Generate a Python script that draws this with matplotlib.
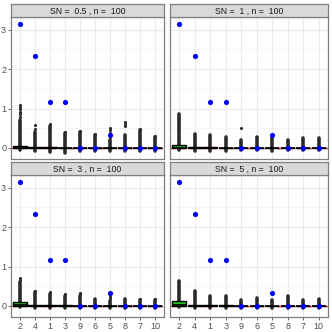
import numpy as np
import matplotlib.pyplot as plt

plt.rcParams['font.family'] = ['Liberation Sans', 'DejaVu Sans']

# categories in plotting order
cats = ['2', '4', '1', '3', '9', '6', '5', '8', '7', '10']
panels = ['SN =  0.5 , n =  100', 'SN =  1 , n =  100',
          'SN =  3 , n =  100', 'SN =  5 , n =  100']

# true values (blue points)
truth = [3.14, 2.32, 1.16, 1.17, 0, 0, 0.33, 0, 0, 0]

# box statistics per panel (q1, median, q3)
q1 = [[-0.005] * 10] * 4
med = [[0.01, 0, 0, 0, 0, 0, 0, 0, 0, 0],
       [0.01, 0, 0, 0, 0, 0, 0, 0, 0, 0],
       [0.02, 0, 0, 0, 0, 0, 0, 0, 0, 0],
       [0.02, 0.005, 0, 0, 0, 0, 0, 0, 0, 0]]
q3 = [[0.05, 0.02, 0.015, 0.01, 0.01, 0.01, 0.01, 0.01, 0.01, 0.01],
      [0.07, 0.02, 0.015, 0.01, 0.01, 0.01, 0.01, 0.01, 0.01, 0.01],
      [0.11, 0.025, 0.015, 0.015, 0.01, 0.01, 0.01, 0.01, 0.01, 0.01],
      [0.13, 0.03, 0.015, 0.015, 0.01, 0.01, 0.01, 0.01, 0.01, 0.01]]

# dense outlier columns: lowest and top of dense part
low = [[-0.05, -0.08, -0.1, -0.12, -0.08, -0.08, -0.07, -0.08, -0.08, -0.08],
       [-0.05, -0.07, -0.07, -0.07, -0.06, -0.06, -0.07, -0.06, -0.06, -0.06],
       [-0.03, -0.04, -0.05, -0.05, -0.04, -0.04, -0.05, -0.04, -0.04, -0.04],
       [-0.03, -0.04, -0.05, -0.05, -0.04, -0.04, -0.04, -0.04, -0.04, -0.04]]
dense_top = [[0.70, 0.40, 0.55, 0.38, 0.40, 0.33, 0.20, 0.32, 0.45, 0.28],
             [0.87, 0.36, 0.32, 0.28, 0.20, 0.28, 0.24, 0.20, 0.24, 0.25],
             [0.62, 0.36, 0.30, 0.26, 0.25, 0.18, 0.12, 0.18, 0.15, 0.15],
             [0.64, 0.38, 0.25, 0.25, 0.14, 0.21, 0.15, 0.24, 0.14, 0.18]]

# isolated outliers above the dense part
extra = [
    [[0.78, 0.85, 0.92, 0.98, 1.03, 1.08], [0.48, 0.58], [0.62], [0.41], [0.43],
     [0.36], [0.28, 0.38, 0.45, 0.50], [0.55, 0.60, 0.66], [0.49], [0.30]],
    [[], [], [], [], [0.50], [], [], [], [], []],
    [[0.66, 0.72], [0.38], [0.36], [0.30], [0.30, 0.34], [], [0.18, 0.23, 0.28], [], [0.17], [0.17]],
    [[], [], [], [], [], [], [], [], [], []],
]

fig = plt.figure(figsize=(3.32, 3.32), dpi=100)
W = 332.0
lefts = [11, 170, 11, 170]
rights = [164, 328, 164, 328]
tops = [17, 17, 175, 175]
bottoms = [159, 159, 317, 317]
strip_h = 13

pos = np.arange(1, len(cats) + 1)
for k in range(4):
    x0, x1 = lefts[k] / W, rights[k] / W
    y0 = 1 - bottoms[k] / W
    h = (bottoms[k] - tops[k]) / W
    ax = fig.add_axes([x0, y0, x1 - x0, h])
    ax.set_facecolor('white')
    ax.set_xlim(0.4, 10.6)
    ax.set_ylim(-0.28, 3.32)
    ax.set_yticks([0, 1, 2, 3])
    ax.set_yticks([0.5, 1.5, 2.5], minor=True)
    ax.set_xticks(pos)
    ax.grid(True, which='major', color='#EBEBEB', lw=0.8, zorder=0)
    ax.grid(True, which='minor', axis='y', color='#F2F2F2', lw=0.5, zorder=0)
    ax.set_axisbelow(True)

    # dense outlier columns
    ax.vlines(pos, low[k], dense_top[k], color='#2b2b2b', lw=2.6,
              capstyle='round', zorder=2)
    for i in range(len(cats)):
        if extra[k][i]:
            ax.scatter([pos[i]] * len(extra[k][i]), extra[k][i], s=5,
                       color='#2b2b2b', lw=0, zorder=2)

    stats = []
    for i in range(len(cats)):
        stats.append(dict(med=med[k][i], q1=q1[k][i], q3=q3[k][i],
                          whislo=q1[k][i], whishi=q3[k][i], fliers=[]))
    ax.bxp(stats, positions=pos, widths=0.9, showfliers=False, patch_artist=True,
           boxprops=dict(facecolor='#1FBF1F', edgecolor='black', lw=1.0),
           medianprops=dict(color='black', lw=1.2),
           whiskerprops=dict(color='black', lw=0.8),
           capprops=dict(lw=0), manage_ticks=False, zorder=3)

    ax.axhline(0, color='red', ls=(0, (4, 3)), lw=1.0, alpha=0.8, zorder=2.5)
    ax.scatter(pos, truth, s=14, color='blue', lw=0, zorder=4)

    for sp in ax.spines.values():
        sp.set_color('#7f7f7f')
        sp.set_linewidth(0.9)
    ax.tick_params(length=2, width=0.6, color='#4D4D4D', labelsize=6.5,
                   labelcolor='#4D4D4D', pad=1.5)
    ax.tick_params(which='minor', length=0)
    if k % 2 == 0:
        ax.set_yticklabels(['0', '1', '2', '3'])
    else:
        ax.tick_params(axis='y', length=0, labelleft=False)
    if k >= 2:
        ax.set_xticklabels(cats)
    else:
        ax.tick_params(axis='x', length=0, labelbottom=False)

    # facet strip
    sax = fig.add_axes([x0, 1 - tops[k] / W, x1 - x0, strip_h / W])
    sax.set_facecolor('#D9D9D9')
    sax.set_xticks([])
    sax.set_yticks([])
    for sp in sax.spines.values():
        sp.set_color('#7f7f7f')
        sp.set_linewidth(0.9)
    sax.text(0.5, 0.45, panels[k], ha='center', va='center', fontsize=6.3,
             color='#1A1A1A', transform=sax.transAxes)

fig.savefig('out.png', dpi=100)
